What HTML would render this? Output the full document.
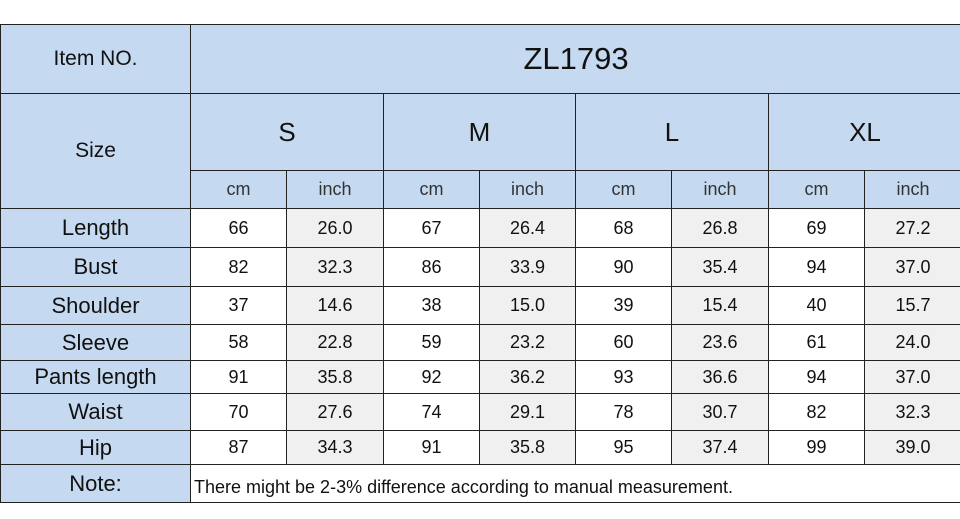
<!DOCTYPE html>
<html><head><meta charset="utf-8"><style>
body{margin:0;width:960px;height:519px;background:#fff;overflow:hidden;font-family:"Liberation Sans",sans-serif;color:#111}
table{position:absolute;left:0;top:24px;border-collapse:collapse;table-layout:fixed;width:961px}
td{border:1.5px solid #222;padding:0;text-align:center;font-size:18px;overflow:hidden;white-space:nowrap}
.b{background:#c5d9f1}
.g{background:#f0f0f0}
.lab{font-size:22px}
.hl{font-size:21px}
.big{font-size:31px}
.sz{font-size:26px}
.u{font-size:18px;color:#333}
.note{text-align:left;font-size:18px;padding-left:3px;padding-top:8px}
</style></head><body>
<table>
<colgroup><col style="width:190px"><col style="width:96px"><col style="width:97px"><col style="width:96px"><col style="width:96px"><col style="width:96px"><col style="width:97px"><col style="width:96px"><col style="width:97px"></colgroup>
<tr style="height:69px"><td class="b hl">Item NO.</td><td class="b big" colspan="8">ZL1793</td></tr>
<tr style="height:77px"><td class="b hl" rowspan="2">Size</td><td class="b sz" colspan="2">S</td><td class="b sz" colspan="2">M</td><td class="b sz" colspan="2">L</td><td class="b sz" colspan="2">XL</td></tr>
<tr style="height:38px"><td class="b u">cm</td><td class="b u">inch</td><td class="b u">cm</td><td class="b u">inch</td><td class="b u">cm</td><td class="b u">inch</td><td class="b u">cm</td><td class="b u">inch</td></tr>
<tr style="height:39px"><td class="b lab">Length</td><td>66</td><td class="g">26.0</td><td>67</td><td class="g">26.4</td><td>68</td><td class="g">26.8</td><td>69</td><td class="g">27.2</td></tr>
<tr style="height:39px"><td class="b lab">Bust</td><td>82</td><td class="g">32.3</td><td>86</td><td class="g">33.9</td><td>90</td><td class="g">35.4</td><td>94</td><td class="g">37.0</td></tr>
<tr style="height:38px"><td class="b lab">Shoulder</td><td>37</td><td class="g">14.6</td><td>38</td><td class="g">15.0</td><td>39</td><td class="g">15.4</td><td>40</td><td class="g">15.7</td></tr>
<tr style="height:36px"><td class="b lab">Sleeve</td><td>58</td><td class="g">22.8</td><td>59</td><td class="g">23.2</td><td>60</td><td class="g">23.6</td><td>61</td><td class="g">24.0</td></tr>
<tr style="height:33px"><td class="b lab">Pants length</td><td>91</td><td class="g">35.8</td><td>92</td><td class="g">36.2</td><td>93</td><td class="g">36.6</td><td>94</td><td class="g">37.0</td></tr>
<tr style="height:37px"><td class="b lab">Waist</td><td>70</td><td class="g">27.6</td><td>74</td><td class="g">29.1</td><td>78</td><td class="g">30.7</td><td>82</td><td class="g">32.3</td></tr>
<tr style="height:34px"><td class="b lab">Hip</td><td>87</td><td class="g">34.3</td><td>91</td><td class="g">35.8</td><td>95</td><td class="g">37.4</td><td>99</td><td class="g">39.0</td></tr>
<tr style="height:38px"><td class="b lab">Note:</td><td class="note" colspan="8">There might be 2-3% difference according to manual measurement.</td></tr>
</table>
</body></html>
